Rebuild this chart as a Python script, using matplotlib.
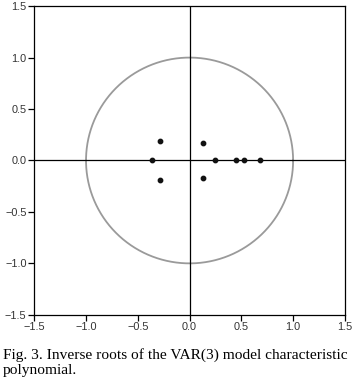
import numpy as np
import matplotlib.pyplot as plt

root_re = [-0.29, -0.36, -0.29, 0.13, 0.13, 0.25, 0.45, 0.53, 0.68]
root_im = [0.19, 0.0, -0.19, 0.17, -0.17, 0.0, 0.0, 0.0, 0.0]
ticks = [-1.5, -1.0, -0.5, 0.0, 0.5, 1.0, 1.5]
caption = "Fig. 3. Inverse roots of the VAR(3) model characteristic\npolynomial."

fig = plt.figure(figsize=(3.53, 3.83), dpi=100)
ax = fig.add_axes([0.097, 0.178, 0.880, 0.806])

# unit circle
t = np.linspace(0, 2 * np.pi, 400)
ax.plot(np.cos(t), np.sin(t), color="#9a9a9a", lw=1.3)
ax.axhline(0, color="black", lw=0.9)
ax.axvline(0, color="black", lw=0.9)
ax.scatter(root_re, root_im, s=10, color="#111111", zorder=3)

ax.set_xlim(-1.5, 1.5)
ax.set_ylim(-1.5, 1.5)
ax.set_xticks(ticks)
ax.set_yticks(ticks)
ax.set_xticklabels([f"{v:.1f}".replace("-", "\u2212") for v in ticks])
ax.set_yticklabels([f"{v:.1f}".replace("-", "\u2212") for v in ticks])
ax.tick_params(direction="out", length=4, width=0.9, labelsize=7.8, pad=1.5, colors="black")
for lab in ax.get_xticklabels() + ax.get_yticklabels():
    lab.set_fontfamily("Liberation Sans")
    lab.set_color("#333333")
for sp in ax.spines.values():
    sp.set_linewidth(0.9)

fig.text(0.008, 0.092, caption, fontfamily="Liberation Serif", fontsize=11.1,
         va="top", ha="left", linespacing=1.2)

fig.savefig("out.png", dpi=100)
